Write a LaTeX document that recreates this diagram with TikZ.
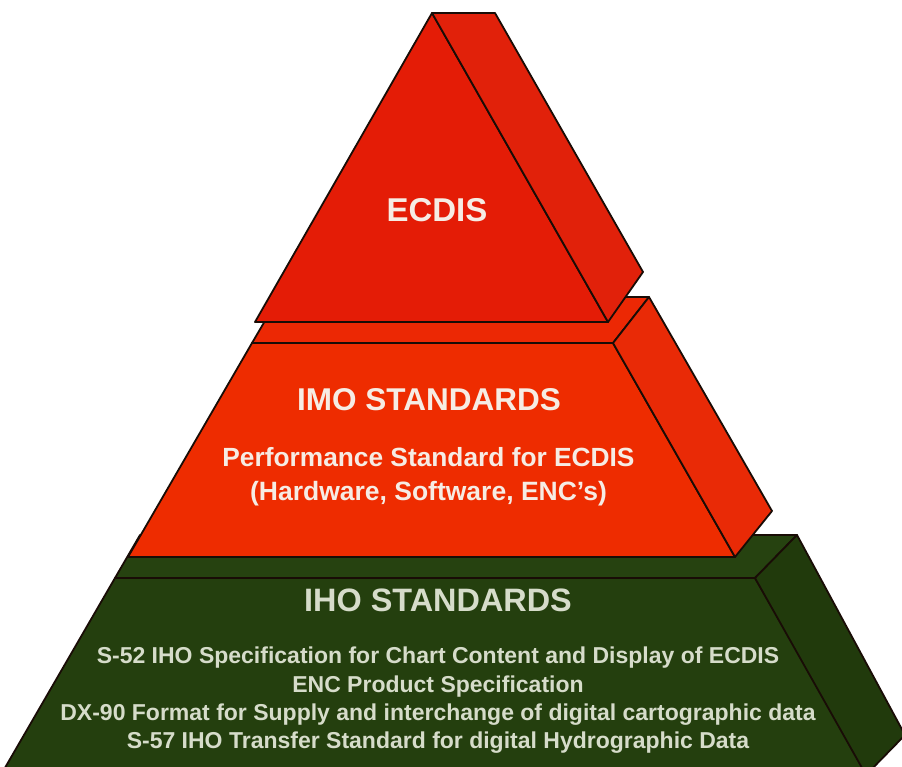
\documentclass[tikz,border=0pt]{standalone}
\usepackage{fontspec}
\setmainfont{Liberation Sans}
\definecolor{redA}{RGB}{228,28,6}
\definecolor{redAs}{RGB}{225,33,10}
\definecolor{redB}{RGB}{238,44,0}
\definecolor{redBt}{RGB}{236,40,4}
\definecolor{redBs}{RGB}{233,42,6}
\definecolor{grnF}{RGB}{36,63,14}
\definecolor{grnT}{RGB}{38,66,16}
\definecolor{grnS}{RGB}{33,58,12}
\definecolor{edgecol}{RGB}{25,12,6}
\definecolor{txtR}{RGB}{246,236,228}
\definecolor{txtG}{RGB}{214,220,202}
\tikzset{
  face/.style={draw=edgecol, line width=1.8pt, line join=round},
  lbl/.style={inner sep=0pt, anchor=base, font=\bfseries},
}
\begin{document}
\begin{tikzpicture}[x=1pt,y=-1pt]
\useasboundingbox (0,0) rectangle (902,766);
\fill[white] (0,0) rectangle (902,766);
\begin{scope}
\clip (0,0) rectangle (902,766);
% ---- bottom tier (IHO) ----
\filldraw[face, fill=grnT] (115,578) -- (755,578) -- (797,535) -- (140,535) -- cycle;
\filldraw[face, fill=grnF] (115,578) -- (755,578) -- (875,785) -- (-5,785) -- cycle;
\filldraw[face, fill=grnS] (755,578) -- (797,535) -- (905,735) -- (866,775) -- cycle;
% ---- middle tier (IMO) ----
\filldraw[face, fill=redBt] (252,343) -- (613,343) -- (649,297) -- (279,297) -- cycle;
\filldraw[face, fill=redB] (252,343) -- (613,343) -- (735,557) -- (128,557) -- cycle;
\filldraw[face, fill=redBs] (613,343) -- (649,297) -- (772,511) -- (735,557) -- cycle;
% ---- top pyramid (ECDIS) ----
\filldraw[face, fill=redA] (432,13) -- (608,322) -- (255,322) -- cycle;
\filldraw[face, fill=redAs] (432,13) -- (495,13) -- (643,272) -- (608,322) -- cycle;
\end{scope}
% ---- texts ----
\node[lbl, text=txtR, font=\bfseries\fontsize{33}{36}\selectfont] (ecdis) at (437,221.5) {ECDIS};
\node[lbl, text=txtR, font=\bfseries\fontsize{31.5}{34}\selectfont] (imo) at (429,410) {IMO STANDARDS};
\node[lbl, text=txtR, font=\bfseries\fontsize{26.3}{30}\selectfont] (perf) at (428.5,466.5) {Performance Standard for ECDIS};
\node[lbl, text=txtR, font=\bfseries\fontsize{26.5}{30}\selectfont] (hw) at (428.5,500.5) {(Hardware, Software, ENC’s)};
\node[lbl, text=txtG, font=\bfseries\fontsize{32.4}{35}\selectfont] (iho) at (438,611.5) {IHO STANDARDS};
\node[lbl, text=txtG, font=\bfseries\fontsize{23}{26}\selectfont] (s52) at (438,663) {S-52 IHO Specification for Chart Content and Display of ECDIS};
\node[lbl, text=txtG, font=\bfseries\fontsize{23}{26}\selectfont] (enc) at (438,692) {ENC Product Specification};
\node[lbl, text=txtG, font=\bfseries\fontsize{23}{26}\selectfont] (dx90) at (438,720) {DX-90 Format for Supply and interchange of digital cartographic data};
\node[lbl, text=txtG, font=\bfseries\fontsize{23}{26}\selectfont] (s57) at (438,748) {S-57 IHO Transfer Standard for digital Hydrographic Data};
\end{tikzpicture}
\end{document}
